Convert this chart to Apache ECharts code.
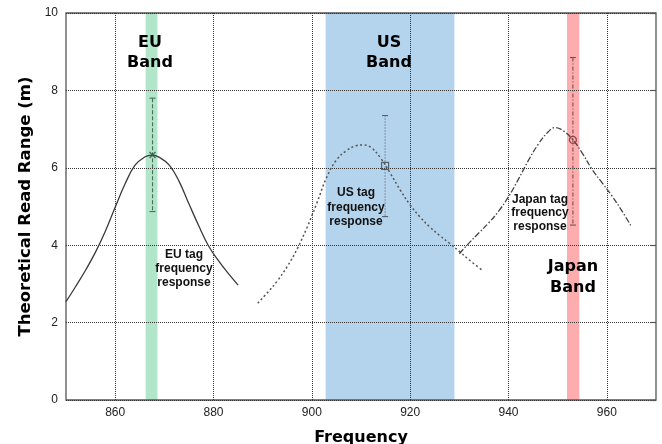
<!DOCTYPE html>
<html><head><meta charset="utf-8">
<script src="https://cdn.jsdelivr.net/npm/echarts@6/dist/echarts.min.js"></script>
<style>html,body{margin:0;padding:0;background:#fff}#c{width:662px;height:444px}</style>
</head><body><div id="c"></div><script>
const xTicks = [860, 880, 900, 920, 940, 960];
const euFreq = [850, 852, 854, 856, 858, 860, 862, 864, 866, 867.5, 869, 871, 873, 875, 877, 879, 881, 883, 885];
const euRange = [2.54, 2.94, 3.36, 3.82, 4.36, 4.98, 5.58, 6.06, 6.28, 6.33, 6.27, 6.07, 5.65, 5.07, 4.5, 3.98, 3.6, 3.27, 2.97];
const usFreq = [889, 891, 893, 895, 897, 899, 901, 903, 905, 907, 909, 910.4, 912, 914, 916, 918, 920, 922, 924, 926, 928, 930, 932, 934.6];
const usRange = [2.5, 2.78, 3.08, 3.45, 3.9, 4.45, 5.08, 5.75, 6.2, 6.44, 6.57, 6.59, 6.53, 6.25, 5.85, 5.42, 5.04, 4.73, 4.47, 4.25, 4.05, 3.84, 3.62, 3.36];
const jpFreq = [930, 932, 934, 936, 938, 940, 942, 944, 946, 948, 949.5, 951, 953, 955, 957, 959, 961, 963, 965];
const jpRange = [3.78, 4.06, 4.32, 4.58, 4.88, 5.25, 5.7, 6.18, 6.6, 6.92, 7.04, 6.97, 6.74, 6.38, 5.96, 5.62, 5.28, 4.9, 4.48];
const errFreq = [867.6, 914.9, 953.1];
const errLow = [4.87, 4.74, 4.52];
const errHigh = [7.8, 7.35, 8.85];
const markVal = [6.33, 6.05, 6.72];
const bandStart = [866.2, 902.8, 951.9];
const bandEnd = [868.6, 929.0, 954.4];
const bandNames = ['EU\nBand', 'US\nBand', 'Japan\nBand'];
const tagNames = ['EU tag\nfrequency\nresponse', 'US tag\nfrequency\nresponse', 'Japan tag\nfrequency\nresponse'];

const bandColors = ['#b2e6c9', '#b4d3ec', '#fdadad'];
const errColors = ['#4d6b5c', '#55606e', '#7a4d50'];
const errDash = [[4, 2], [1, 2], [4, 2, 1, 2]];

const chart = echarts.init(document.getElementById('c'));
const zip = (a, b) => a.map((v, i) => [v, b[i]]);

chart.setOption({
  animation: false,
  grid: { left: 66, right: 6, top: 13, bottom: 44, containLabel: false, outerBoundsMode: 'none', show: true, borderColor: '#555', borderWidth: 1.3, z: 3, backgroundColor: 'transparent' },
  xAxis: [{
    type: 'value', min: 850, max: 970, interval: 10, z: 3,
    axisLine: { show: false }, axisTick: { show: false }, splitLine: { show: false },
    axisLabel: { formatter: v => (xTicks.indexOf(v) >= 0 ? String(v) : ''), color: '#222', fontSize: 12, fontFamily: 'Liberation Sans, Arial', margin: 7 },
    name: 'Frequency', nameLocation: 'middle', nameGap: 30,
    nameTextStyle: { fontFamily: 'DejaVu Sans', fontWeight: 'bold', fontSize: 16, color: '#000' }
  }],
  yAxis: [{
    type: 'value', min: 0, max: 10, interval: 2, z: 3,
    axisLine: { show: false }, axisTick: { show: false },
    splitLine: { lineStyle: { color: '#333', type: 'dotted', width: 1 } },
    axisLabel: { color: '#222', fontSize: 12, fontFamily: 'Liberation Sans, Arial', margin: 8 },
    name: 'Theoretical Read Range (m)', nameLocation: 'middle', nameGap: 32,
    nameTextStyle: { fontFamily: 'DejaVu Sans', fontWeight: 'bold', fontSize: 16.5, color: '#000' }
  }, {
    type: 'value', min: 0, max: 10, interval: 2, position: 'right', z: 3,
    axisLine: { show: false }, splitLine: { show: false }, axisLabel: { show: false },
    axisTick: { show: true, inside: true, length: 6, lineStyle: { color: '#555', width: 1.2 } }
  }],
  series: [
    { type: 'line', data: [], z: 1, silent: true,
      markArea: { silent: true, data: bandStart.map((s, i) => [{ xAxis: s, itemStyle: { color: bandColors[i], opacity: 1 } }, { xAxis: bandEnd[i] }]) } },
    { type: 'line', data: [], z: 3, silent: true,
      markLine: { silent: true, symbol: 'none', label: { show: false },
        lineStyle: { color: '#333', type: 'dotted', width: 1 },
        data: xTicks.map(v => ({ xAxis: v })) } },
    { type: 'custom', z: 4, silent: true, data: [[xTicks[5], 8.86, 10]],
      renderItem: (params, api) => {
        const a = api.coord([api.value(0), api.value(2)]);
        const b = api.coord([api.value(0), api.value(1)]);
        return { type: 'rect', shape: { x: a[0] - 3, y: a[1] + 1.5, width: 6, height: b[1] - a[1] - 1.5 }, style: { fill: '#fff' } };
      } },
    { type: 'line', name: 'EU', data: zip(euFreq, euRange), smooth: 0.4, showSymbol: false, z: 5,
      lineStyle: { color: '#3a3a3a', width: 1.3 } },
    { type: 'line', name: 'US', data: zip(usFreq, usRange), smooth: 0.4, showSymbol: false, z: 5,
      lineStyle: { color: '#555', width: 1.5, type: [2, 2.5] } },
    { type: 'line', name: 'JP', data: zip(jpFreq, jpRange), smooth: 0.4, showSymbol: false, z: 5,
      lineStyle: { color: '#444', width: 1.3, type: [6, 2, 1.5, 2] } },
    { type: 'custom', z: 6, silent: true,
      data: errFreq.map((f, i) => [f, errLow[i], errHigh[i]]),
      renderItem: (params, api) => {
        const i = params.dataIndex;
        const x = api.value(0);
        const pHi = api.coord([x, api.value(2)]);
        const pLo = api.coord([x, api.value(1)]);
        const st = { stroke: errColors[i], lineWidth: 1.1, lineDash: errDash[i] };
        const cst = { stroke: errColors[i], lineWidth: 1.1 };
        const c = 3;
        return { type: 'group', children: [
          { type: 'line', shape: { x1: pHi[0], y1: pHi[1], x2: pLo[0], y2: pLo[1] }, style: st },
          { type: 'line', shape: { x1: pHi[0] - c, y1: pHi[1], x2: pHi[0] + c, y2: pHi[1] }, style: cst },
          { type: 'line', shape: { x1: pLo[0] - c, y1: pLo[1], x2: pLo[0] + c, y2: pLo[1] }, style: cst }
        ] };
      } },
    { type: 'scatter', z: 7, silent: true,
      data: [
        { value: [errFreq[0], markVal[0]], symbol: 'path://M0,0L10,10M10,0L0,10', symbolSize: 6, itemStyle: { color: 'none', borderColor: '#2f5a44', borderWidth: 1.5 } },
        { value: [errFreq[1], markVal[1]], symbol: 'rect', symbolSize: 7, itemStyle: { color: 'none', borderColor: '#3a4a5a', borderWidth: 1.2 } },
        { value: [errFreq[2], markVal[2]], symbol: 'circle', symbolSize: 7, itemStyle: { color: 'none', borderColor: '#7a2f35', borderWidth: 1.3 } }
      ] }
  ],
  graphic: [
    { type: 'text', x: 150, y: 53, z: 10, style: { text: bandNames[0], textAlign: 'center', textVerticalAlign: 'middle', font: 'bold 16px "DejaVu Sans"', lineHeight: 20, fill: '#000' } },
    { type: 'text', x: 389, y: 53, z: 10, style: { text: bandNames[1], textAlign: 'center', textVerticalAlign: 'middle', font: 'bold 16px "DejaVu Sans"', lineHeight: 20, fill: '#000' } },
    { type: 'text', x: 573, y: 277.5, z: 10, style: { text: bandNames[2], textAlign: 'center', textVerticalAlign: 'middle', font: 'bold 16px "DejaVu Sans"', lineHeight: 21, fill: '#000' } },
    { type: 'text', x: 184, y: 269, z: 10, style: { text: tagNames[0], textAlign: 'center', textVerticalAlign: 'middle', font: 'bold 12px "Liberation Sans"', lineHeight: 14, fill: '#111' } },
    { type: 'text', x: 356, y: 207.5, z: 10, style: { text: tagNames[1], textAlign: 'center', textVerticalAlign: 'middle', font: 'bold 12px "Liberation Sans"', lineHeight: 14.5, fill: '#111' } },
    { type: 'text', x: 540, y: 213, z: 10, style: { text: tagNames[2], textAlign: 'center', textVerticalAlign: 'middle', font: 'bold 12px "Liberation Sans"', lineHeight: 13.7, fill: '#111' } }
  ]
});
</script></body></html>
